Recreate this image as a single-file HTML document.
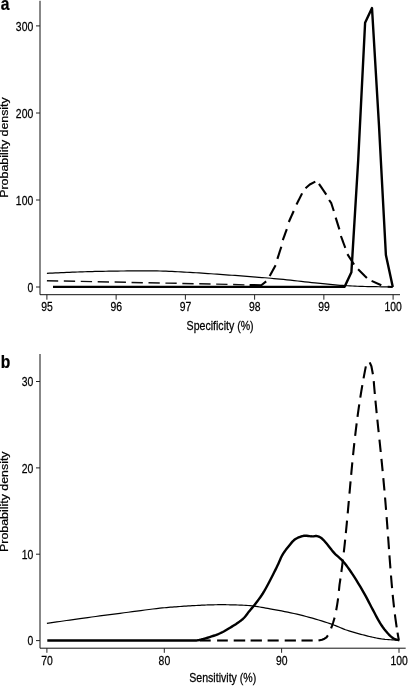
<!DOCTYPE html>
<html><head><meta charset="utf-8"><style>
html,body{margin:0;padding:0;background:#fff;width:408px;height:686px;overflow:hidden}
svg{display:block;filter:grayscale(1)}
text{font-family:"Liberation Sans",sans-serif;fill:#000;stroke:#000;stroke-width:0.25px}
</style></head><body>
<svg width="408" height="686" viewBox="0 0 408 686">
<rect width="408" height="686" fill="#fff"/>
<path d="M40.0,0.8 V294.7 H400.0" fill="none" stroke="#111" stroke-width="1.0"/>
<path d="M36,287.0 H40.0" stroke="#222" stroke-width="1.0"/>
<text transform="translate(33.2,291.6) scale(0.8,1)" font-size="13.0" text-anchor="end" font-weight="normal">0</text>
<path d="M36,200.0 H40.0" stroke="#222" stroke-width="1.0"/>
<text transform="translate(33.2,204.6) scale(0.8,1)" font-size="13.0" text-anchor="end" font-weight="normal">100</text>
<path d="M36,113.0 H40.0" stroke="#222" stroke-width="1.0"/>
<text transform="translate(33.2,117.6) scale(0.8,1)" font-size="13.0" text-anchor="end" font-weight="normal">200</text>
<path d="M36,25.9 H40.0" stroke="#222" stroke-width="1.0"/>
<text transform="translate(33.2,30.5) scale(0.8,1)" font-size="13.0" text-anchor="end" font-weight="normal">300</text>
<path d="M46.9,294.7 V299.7" stroke="#222" stroke-width="1.0"/>
<text transform="translate(46.949999999999996,311.4) scale(0.8,1)" font-size="13.0" text-anchor="middle" font-weight="normal">95</text>
<path d="M116.14,294.7 V299.7" stroke="#222" stroke-width="1.0"/>
<text transform="translate(116.19,311.4) scale(0.8,1)" font-size="13.0" text-anchor="middle" font-weight="normal">96</text>
<path d="M185.38,294.7 V299.7" stroke="#222" stroke-width="1.0"/>
<text transform="translate(185.43,311.4) scale(0.8,1)" font-size="13.0" text-anchor="middle" font-weight="normal">97</text>
<path d="M254.62,294.7 V299.7" stroke="#222" stroke-width="1.0"/>
<text transform="translate(254.67000000000002,311.4) scale(0.8,1)" font-size="13.0" text-anchor="middle" font-weight="normal">98</text>
<path d="M323.86,294.7 V299.7" stroke="#222" stroke-width="1.0"/>
<text transform="translate(323.91,311.4) scale(0.8,1)" font-size="13.0" text-anchor="middle" font-weight="normal">99</text>
<path d="M393.1,294.7 V299.7" stroke="#222" stroke-width="1.0"/>
<text transform="translate(393.15000000000003,311.4) scale(0.8,1)" font-size="13.0" text-anchor="middle" font-weight="normal">100</text>
<text transform="translate(220.1,330.4) scale(0.855,1)" font-size="12.4" text-anchor="middle" font-weight="normal">Specificity (%)</text>
<text transform="translate(8.0,147.5) scale(0.87,1) rotate(-90)" font-size="12.4" text-anchor="middle">Probability density</text>
<text transform="translate(0.8,9.6) scale(0.88,1)" font-size="17.7" text-anchor="start" font-weight="bold">a</text>
<path d="M40.0,354 V648.2 H405.7" fill="none" stroke="#111" stroke-width="1.0"/>
<path d="M36,640.6 H40.0" stroke="#222" stroke-width="1.0"/>
<text transform="translate(33.2,645.2) scale(0.8,1)" font-size="13.0" text-anchor="end" font-weight="normal">0</text>
<path d="M36,554.2 H40.0" stroke="#222" stroke-width="1.0"/>
<text transform="translate(33.2,558.8000000000001) scale(0.8,1)" font-size="13.0" text-anchor="end" font-weight="normal">10</text>
<path d="M36,467.9 H40.0" stroke="#222" stroke-width="1.0"/>
<text transform="translate(33.2,472.5) scale(0.8,1)" font-size="13.0" text-anchor="end" font-weight="normal">20</text>
<path d="M36,381.5 H40.0" stroke="#222" stroke-width="1.0"/>
<text transform="translate(33.2,386.1) scale(0.8,1)" font-size="13.0" text-anchor="end" font-weight="normal">30</text>
<path d="M46.9,648.2 V652.8" stroke="#222" stroke-width="1.0"/>
<text transform="translate(47.0,664.6) scale(0.8,1)" font-size="13.0" text-anchor="middle" font-weight="normal">70</text>
<path d="M164.3,648.2 V652.8" stroke="#222" stroke-width="1.0"/>
<text transform="translate(164.4,664.6) scale(0.8,1)" font-size="13.0" text-anchor="middle" font-weight="normal">80</text>
<path d="M281.6,648.2 V652.8" stroke="#222" stroke-width="1.0"/>
<text transform="translate(281.70000000000005,664.6) scale(0.8,1)" font-size="13.0" text-anchor="middle" font-weight="normal">90</text>
<path d="M399.0,648.2 V652.8" stroke="#222" stroke-width="1.0"/>
<text transform="translate(399.1,664.6) scale(0.8,1)" font-size="13.0" text-anchor="middle" font-weight="normal">100</text>
<text transform="translate(222.75,682.1) scale(0.855,1)" font-size="12.4" text-anchor="middle" font-weight="normal">Sensitivity (%)</text>
<text transform="translate(8.0,501.7) scale(0.87,1) rotate(-90)" font-size="12.4" text-anchor="middle">Probability density</text>
<text transform="translate(0.8,367.6) scale(0.88,1)" font-size="17.7" text-anchor="start" font-weight="bold">b</text>
<polyline points="46.90,273.30 49.72,273.18 52.55,273.05 55.38,272.93 58.22,272.80 61.05,272.67 63.88,272.55 66.69,272.43 69.48,272.31 72.26,272.20 75.00,272.10 77.55,272.01 80.06,271.92 82.54,271.84 85.00,271.76 87.45,271.68 89.91,271.61 92.38,271.54 94.88,271.47 97.41,271.41 100.00,271.35 102.89,271.29 105.82,271.23 108.80,271.18 111.80,271.14 114.83,271.09 117.87,271.06 120.91,271.02 123.96,270.99 126.99,270.97 130.00,270.95 133.00,270.93 136.00,270.91 139.00,270.89 142.00,270.87 145.00,270.86 148.00,270.86 151.00,270.87 154.00,270.90 157.00,270.94 160.00,271.00 163.00,271.08 166.00,271.18 169.00,271.30 172.00,271.43 175.00,271.58 178.00,271.73 181.00,271.89 184.00,272.06 187.00,272.23 190.00,272.40 193.00,272.57 196.00,272.76 199.00,272.95 202.00,273.15 205.00,273.35 208.00,273.56 211.00,273.77 214.00,273.98 217.00,274.19 220.00,274.40 223.00,274.61 226.00,274.82 229.00,275.04 232.00,275.25 235.00,275.47 238.00,275.69 241.00,275.91 244.00,276.14 247.00,276.37 250.00,276.60 252.99,276.83 255.96,277.07 258.93,277.30 261.89,277.53 264.86,277.77 267.84,278.02 270.83,278.27 273.85,278.53 276.91,278.81 280.00,279.10 283.42,279.44 286.92,279.80 290.49,280.19 294.09,280.59 297.70,280.99 301.29,281.40 304.85,281.80 308.33,282.19 311.73,282.56 315.00,282.90 317.67,283.18 320.27,283.45 322.81,283.71 325.30,283.97 327.76,284.22 330.20,284.46 332.63,284.69 335.06,284.91 337.52,285.11 340.00,285.30 342.49,285.47 344.98,285.63 347.45,285.77 349.93,285.90 352.41,286.02 354.90,286.13 357.40,286.24 359.91,286.33 362.45,286.42 365.00,286.50 367.72,286.58 370.46,286.64 373.23,286.69 376.01,286.72 378.81,286.76 381.61,286.78 384.41,286.81 387.22,286.83 390.01,286.86 392.80,286.90" fill="none" stroke="#000" stroke-width="1.2" stroke-linejoin="round" stroke-linecap="butt"/>
<g><polyline points="46.90,280.70 58.20,280.93" fill="none" stroke="#111" stroke-width="1.45" stroke-linejoin="round" stroke-linecap="butt"/><polyline points="63.83,281.05 75.13,281.28" fill="none" stroke="#111" stroke-width="1.45" stroke-linejoin="round" stroke-linecap="butt"/><polyline points="80.76,281.40 92.06,281.64" fill="none" stroke="#111" stroke-width="1.45" stroke-linejoin="round" stroke-linecap="butt"/><polyline points="97.69,281.75 108.99,281.98" fill="none" stroke="#111" stroke-width="1.45" stroke-linejoin="round" stroke-linecap="butt"/><polyline points="114.62,282.09 125.92,282.32" fill="none" stroke="#111" stroke-width="1.45" stroke-linejoin="round" stroke-linecap="butt"/><polyline points="131.55,282.43 142.85,282.66" fill="none" stroke="#111" stroke-width="1.45" stroke-linejoin="round" stroke-linecap="butt"/><polyline points="148.48,282.77 159.78,283.00" fill="none" stroke="#111" stroke-width="1.45" stroke-linejoin="round" stroke-linecap="butt"/><polyline points="165.41,283.11 176.71,283.33" fill="none" stroke="#111" stroke-width="1.45" stroke-linejoin="round" stroke-linecap="butt"/><polyline points="182.34,283.45 193.64,283.67" fill="none" stroke="#111" stroke-width="1.45" stroke-linejoin="round" stroke-linecap="butt"/><polyline points="199.27,283.79 210.57,284.01" fill="none" stroke="#111" stroke-width="1.45" stroke-linejoin="round" stroke-linecap="butt"/><polyline points="216.20,284.13 227.50,284.40" fill="none" stroke="#111" stroke-width="1.45" stroke-linejoin="round" stroke-linecap="butt"/><polyline points="233.13,284.54 244.43,284.85" fill="none" stroke="#111" stroke-width="1.45" stroke-linejoin="round" stroke-linecap="butt"/><polyline points="249.60,285.02 261.30,285.30 266.20,281.40" fill="none" stroke="#000" stroke-width="2.1" stroke-linejoin="round" stroke-linecap="butt"/><polyline points="269.70,276.10 275.60,265.30" fill="none" stroke="#000" stroke-width="2.1" stroke-linejoin="round" stroke-linecap="butt"/><polyline points="277.40,258.90 281.30,246.70" fill="none" stroke="#000" stroke-width="2.1" stroke-linejoin="round" stroke-linecap="butt"/><polyline points="282.80,240.20 286.80,229.20" fill="none" stroke="#000" stroke-width="2.1" stroke-linejoin="round" stroke-linecap="butt"/><polyline points="288.80,222.00 293.70,211.00" fill="none" stroke="#000" stroke-width="2.1" stroke-linejoin="round" stroke-linecap="butt"/><polyline points="296.50,204.50 302.10,193.40" fill="none" stroke="#000" stroke-width="2.1" stroke-linejoin="round" stroke-linecap="butt"/><polyline points="305.50,188.30 309.80,184.50 315.30,181.60" fill="none" stroke="#000" stroke-width="2.1" stroke-linejoin="round" stroke-linecap="butt"/><polyline points="319.00,183.90 326.30,194.70" fill="none" stroke="#000" stroke-width="2.1" stroke-linejoin="round" stroke-linecap="butt"/><polyline points="329.10,200.00 331.30,203.20 333.80,211.00" fill="none" stroke="#000" stroke-width="2.1" stroke-linejoin="round" stroke-linecap="butt"/><polyline points="335.70,217.60 339.40,229.40" fill="none" stroke="#000" stroke-width="2.1" stroke-linejoin="round" stroke-linecap="butt"/><polyline points="340.90,236.00 345.30,247.80" fill="none" stroke="#000" stroke-width="2.1" stroke-linejoin="round" stroke-linecap="butt"/><polyline points="347.40,254.10 351.30,260.20 354.10,264.50" fill="none" stroke="#000" stroke-width="2.1" stroke-linejoin="round" stroke-linecap="butt"/><polyline points="358.10,269.30 365.10,276.30 366.90,278.00" fill="none" stroke="#000" stroke-width="2.1" stroke-linejoin="round" stroke-linecap="butt"/><polyline points="371.60,280.90 381.30,285.20" fill="none" stroke="#000" stroke-width="2.1" stroke-linejoin="round" stroke-linecap="butt"/><polyline points="387.70,286.70 392.60,287.00" fill="none" stroke="#000" stroke-width="2.1" stroke-linejoin="round" stroke-linecap="butt"/></g>
<polyline points="53.00,286.90 344.60,286.80 351.40,272.30 358.20,160.30 365.10,22.70 372.00,8.00 379.00,125.80 385.90,255.00 392.80,286.90" fill="none" stroke="#000" stroke-width="2.4" stroke-linejoin="round" stroke-linecap="butt"/>
<polyline points="46.90,623.40 50.20,622.92 53.47,622.44 56.73,621.96 59.99,621.48 63.25,621.00 66.53,620.52 69.84,620.04 73.18,619.56 76.56,619.08 80.00,618.60 83.85,618.07 87.76,617.54 91.72,617.01 95.72,616.47 99.76,615.94 103.82,615.41 107.88,614.88 111.94,614.35 115.98,613.82 120.00,613.30 124.06,612.77 128.22,612.22 132.43,611.66 136.65,611.09 140.85,610.54 144.98,610.00 149.00,609.49 152.87,609.01 156.55,608.58 160.00,608.20 162.28,607.96 164.44,607.75 166.50,607.56 168.49,607.38 170.42,607.22 172.33,607.07 174.21,606.92 176.11,606.78 178.03,606.64 180.00,606.50 182.01,606.36 184.04,606.22 186.09,606.08 188.14,605.96 190.18,605.83 192.21,605.71 194.21,605.60 196.18,605.49 198.12,605.39 200.00,605.30 201.59,605.22 203.14,605.15 204.66,605.08 206.15,605.02 207.63,604.96 209.10,604.91 210.57,604.86 212.03,604.81 213.51,604.78 215.00,604.75 216.49,604.73 217.97,604.71 219.43,604.70 220.90,604.69 222.37,604.70 223.85,604.70 225.34,604.72 226.86,604.74 228.41,604.76 230.00,604.80 231.88,604.84 233.82,604.89 235.79,604.94 237.80,604.99 239.83,605.06 241.87,605.14 243.92,605.24 245.96,605.37 247.99,605.52 250.00,605.70 251.99,605.91 253.94,606.15 255.88,606.42 257.82,606.70 259.76,607.01 261.72,607.33 263.71,607.68 265.75,608.04 267.84,608.41 270.00,608.80 272.76,609.30 275.62,609.82 278.57,610.37 281.59,610.94 284.65,611.54 287.74,612.16 290.83,612.81 293.92,613.48 296.99,614.18 300.00,614.90 303.05,615.67 306.16,616.48 309.29,617.32 312.44,618.20 315.56,619.09 318.64,620.00 321.64,620.91 324.56,621.82 327.35,622.72 330.00,623.60 331.93,624.28 333.76,624.97 335.53,625.66 337.24,626.36 338.90,627.06 340.55,627.74 342.18,628.42 343.83,629.07 345.49,629.70 347.20,630.30 348.90,630.86 350.60,631.41 352.31,631.93 354.02,632.44 355.72,632.93 357.44,633.40 359.15,633.87 360.86,634.32 362.58,634.77 364.30,635.20 366.01,635.63 367.72,636.05 369.43,636.47 371.15,636.87 372.86,637.27 374.58,637.64 376.30,638.00 378.03,638.33 379.76,638.63 381.50,638.90 383.25,639.13 385.01,639.33 386.78,639.49 388.55,639.63 390.32,639.75 392.10,639.85 393.88,639.95 395.65,640.06 397.43,640.17 399.20,640.30" fill="none" stroke="#000" stroke-width="1.2" stroke-linejoin="round" stroke-linecap="butt"/>
<g><polyline points="199.90,640.50 210.70,640.50" fill="none" stroke="#000" stroke-width="2.1" stroke-linejoin="round" stroke-linecap="butt"/><polyline points="217.10,640.50 227.80,640.50" fill="none" stroke="#000" stroke-width="2.1" stroke-linejoin="round" stroke-linecap="butt"/><polyline points="233.70,640.50 245.20,640.50" fill="none" stroke="#000" stroke-width="2.1" stroke-linejoin="round" stroke-linecap="butt"/><polyline points="250.60,640.50 261.90,640.50" fill="none" stroke="#000" stroke-width="2.1" stroke-linejoin="round" stroke-linecap="butt"/><polyline points="267.60,640.50 278.70,640.50" fill="none" stroke="#000" stroke-width="2.1" stroke-linejoin="round" stroke-linecap="butt"/><polyline points="284.70,640.50 295.90,640.50" fill="none" stroke="#000" stroke-width="2.1" stroke-linejoin="round" stroke-linecap="butt"/><polyline points="301.50,640.50 312.70,640.50" fill="none" stroke="#000" stroke-width="2.1" stroke-linejoin="round" stroke-linecap="butt"/><polyline points="318.50,640.45 322.00,639.70 324.50,638.70 326.50,637.30 327.90,635.30" fill="none" stroke="#000" stroke-width="2.1" stroke-linejoin="round" stroke-linecap="butt"/><polyline points="331.10,628.40 332.09,625.70 333.00,623.00 333.83,620.30 334.60,617.60" fill="none" stroke="#000" stroke-width="2.1" stroke-linejoin="round" stroke-linecap="butt"/><polyline points="336.20,610.30 336.73,607.30 337.22,604.30 337.68,601.30 338.10,598.30" fill="none" stroke="#000" stroke-width="2.1" stroke-linejoin="round" stroke-linecap="butt"/><polyline points="338.90,590.80 339.22,587.72 339.54,584.65 340.00,581.58 340.45,578.50" fill="none" stroke="#000" stroke-width="2.1" stroke-linejoin="round" stroke-linecap="butt"/><polyline points="341.36,572.00 341.77,568.90 342.17,565.80 342.56,562.70 342.94,559.60" fill="none" stroke="#000" stroke-width="2.1" stroke-linejoin="round" stroke-linecap="butt"/><polyline points="343.80,552.30 344.15,549.15 344.50,546.00 344.84,542.85 345.17,539.70" fill="none" stroke="#000" stroke-width="2.1" stroke-linejoin="round" stroke-linecap="butt"/><polyline points="345.84,533.10 346.14,530.00 346.44,526.90 346.74,523.80 347.03,520.70" fill="none" stroke="#000" stroke-width="2.1" stroke-linejoin="round" stroke-linecap="butt"/><polyline points="347.70,513.40 347.98,510.30 348.26,507.20 348.54,504.10 348.81,501.00" fill="none" stroke="#000" stroke-width="2.1" stroke-linejoin="round" stroke-linecap="butt"/><polyline points="349.46,493.70 349.74,490.60 350.02,487.50 350.29,484.40 350.57,481.30" fill="none" stroke="#000" stroke-width="2.1" stroke-linejoin="round" stroke-linecap="butt"/><polyline points="351.17,474.80 351.46,471.70 351.75,468.60 352.04,465.50 352.34,462.40" fill="none" stroke="#000" stroke-width="2.1" stroke-linejoin="round" stroke-linecap="butt"/><polyline points="353.07,455.10 353.37,452.12 353.68,449.15 354.00,446.18 354.32,443.20" fill="none" stroke="#000" stroke-width="2.1" stroke-linejoin="round" stroke-linecap="butt"/><polyline points="355.14,435.90 355.50,432.77 355.88,429.65 356.26,426.52 356.65,423.40" fill="none" stroke="#000" stroke-width="2.1" stroke-linejoin="round" stroke-linecap="butt"/><polyline points="357.51,416.80 357.93,413.68 358.36,410.55 358.81,407.43 359.27,404.30" fill="none" stroke="#000" stroke-width="2.1" stroke-linejoin="round" stroke-linecap="butt"/><polyline points="360.29,397.60 360.78,394.48 361.29,391.35 361.81,388.23 362.34,385.10" fill="none" stroke="#000" stroke-width="2.1" stroke-linejoin="round" stroke-linecap="butt"/><polyline points="363.54,378.40 364.10,375.40 364.67,372.40 365.25,369.40 365.85,366.40" fill="none" stroke="#000" stroke-width="2.1" stroke-linejoin="round" stroke-linecap="butt"/><polyline points="369.70,362.40 371.40,366.20 372.90,374.30" fill="none" stroke="#000" stroke-width="2.1" stroke-linejoin="round" stroke-linecap="butt"/><polyline points="373.75,381.20 374.09,385.47 374.45,389.73 374.83,394.00" fill="none" stroke="#000" stroke-width="2.1" stroke-linejoin="round" stroke-linecap="butt"/><polyline points="375.44,400.60 375.84,404.77 376.25,408.93 376.67,413.10" fill="none" stroke="#000" stroke-width="2.1" stroke-linejoin="round" stroke-linecap="butt"/><polyline points="377.35,419.70 377.79,423.87 378.22,428.03 378.66,432.20" fill="none" stroke="#000" stroke-width="2.1" stroke-linejoin="round" stroke-linecap="butt"/><polyline points="379.44,439.60 379.87,443.73 380.30,447.87 380.73,452.00" fill="none" stroke="#000" stroke-width="2.1" stroke-linejoin="round" stroke-linecap="butt"/><polyline points="381.42,458.80 381.84,462.93 382.25,467.07 382.65,471.20" fill="none" stroke="#000" stroke-width="2.1" stroke-linejoin="round" stroke-linecap="butt"/><polyline points="383.31,478.20 383.69,482.30 384.07,486.40 384.43,490.50" fill="none" stroke="#000" stroke-width="2.1" stroke-linejoin="round" stroke-linecap="butt"/><polyline points="385.04,497.50 385.39,501.63 385.73,505.77 386.06,509.90" fill="none" stroke="#000" stroke-width="2.1" stroke-linejoin="round" stroke-linecap="butt"/><polyline points="386.63,517.20 386.94,521.23 387.25,525.27 387.55,529.30" fill="none" stroke="#000" stroke-width="2.1" stroke-linejoin="round" stroke-linecap="butt"/><polyline points="388.08,536.50 388.39,540.73 388.69,544.97 389.00,549.20" fill="none" stroke="#000" stroke-width="2.1" stroke-linejoin="round" stroke-linecap="butt"/><polyline points="389.44,555.30 389.76,559.63 390.09,563.97 390.42,568.30" fill="none" stroke="#000" stroke-width="2.1" stroke-linejoin="round" stroke-linecap="butt"/><polyline points="390.99,575.50 391.34,579.73 391.70,583.97 392.08,588.20" fill="none" stroke="#000" stroke-width="2.1" stroke-linejoin="round" stroke-linecap="butt"/><polyline points="392.70,594.80 393.13,599.00 393.57,603.20 394.04,607.40" fill="none" stroke="#000" stroke-width="2.1" stroke-linejoin="round" stroke-linecap="butt"/><polyline points="394.87,614.30 395.44,618.63 396.04,622.97 396.68,627.30" fill="none" stroke="#000" stroke-width="2.1" stroke-linejoin="round" stroke-linecap="butt"/><polyline points="397.53,632.60 397.93,635.00 398.35,637.40 398.79,639.80" fill="none" stroke="#000" stroke-width="2.1" stroke-linejoin="round" stroke-linecap="butt"/></g>
<polyline points="47.30,640.50 190.00,640.50 191.23,640.49 192.44,640.51 193.65,640.52 194.88,640.51 196.16,640.45 197.50,640.30 199.36,639.97 201.34,639.52 203.40,638.98 205.49,638.38 207.57,637.74 209.60,637.10 211.62,636.45 213.66,635.76 215.70,635.04 217.69,634.28 219.60,633.50 221.40,632.70 222.82,632.00 224.15,631.26 225.43,630.51 226.68,629.75 227.92,628.98 229.20,628.20 230.53,627.41 231.87,626.61 233.21,625.81 234.53,624.99 235.83,624.16 237.10,623.30 238.30,622.46 239.49,621.62 240.66,620.76 241.79,619.88 242.88,618.96 243.90,618.00 244.80,617.03 245.63,616.03 246.41,614.99 247.19,613.93 247.97,612.87 248.80,611.80 249.74,610.66 250.70,609.53 251.67,608.39 252.66,607.22 253.67,605.99 254.70,604.70 256.00,603.02 257.35,601.25 258.73,599.40 260.12,597.49 261.48,595.52 262.80,593.50 264.21,591.19 265.60,588.76 266.97,586.26 268.31,583.74 269.62,581.24 270.90,578.80 272.07,576.55 273.21,574.32 274.32,572.09 275.41,569.90 276.47,567.73 277.50,565.60 278.38,563.69 279.21,561.78 280.01,559.91 280.82,558.07 281.68,556.30 282.60,554.60 283.50,553.14 284.45,551.74 285.43,550.39 286.43,549.07 287.46,547.78 288.50,546.50 289.53,545.21 290.55,543.90 291.60,542.62 292.69,541.40 293.85,540.28 295.10,539.30 296.45,538.46 297.90,537.71 299.41,537.05 300.95,536.51 302.50,536.09 304.00,535.80 305.38,535.70 306.78,535.77 308.17,535.94 309.54,536.14 310.86,536.32 312.10,536.40 313.02,536.36 313.91,536.26 314.76,536.13 315.59,536.04 316.40,536.01 317.20,536.10 317.97,536.30 318.72,536.58 319.45,536.92 320.17,537.33 320.88,537.79 321.60,538.30 322.48,539.02 323.33,539.85 324.18,540.76 325.03,541.73 325.90,542.75 326.80,543.80 327.95,545.18 329.11,546.68 330.31,548.25 331.53,549.84 332.80,551.41 334.10,552.90 335.49,554.31 336.95,555.64 338.45,556.95 339.96,558.28 341.45,559.68 342.90,561.20 344.50,563.08 346.07,565.06 347.61,567.13 349.16,569.30 350.71,571.55 352.30,573.90 354.29,576.93 356.34,580.17 358.41,583.55 360.46,586.97 362.44,590.35 364.30,593.60 365.85,596.39 367.31,599.15 368.71,601.86 370.09,604.55 371.48,607.23 372.90,609.90 374.31,612.54 375.71,615.21 377.11,617.87 378.53,620.47 379.99,622.96 381.50,625.30 382.88,627.26 384.33,629.18 385.81,631.02 387.27,632.74 388.68,634.28 390.00,635.60 390.79,636.32 391.53,636.96 392.26,637.53 392.98,638.04 393.72,638.49 394.50,638.90 395.28,639.23 396.09,639.49 396.91,639.71 397.74,639.90 398.58,640.09 399.40,640.30" fill="none" stroke="#000" stroke-width="2.4" stroke-linejoin="round" stroke-linecap="butt"/>
</svg>
</body></html>
